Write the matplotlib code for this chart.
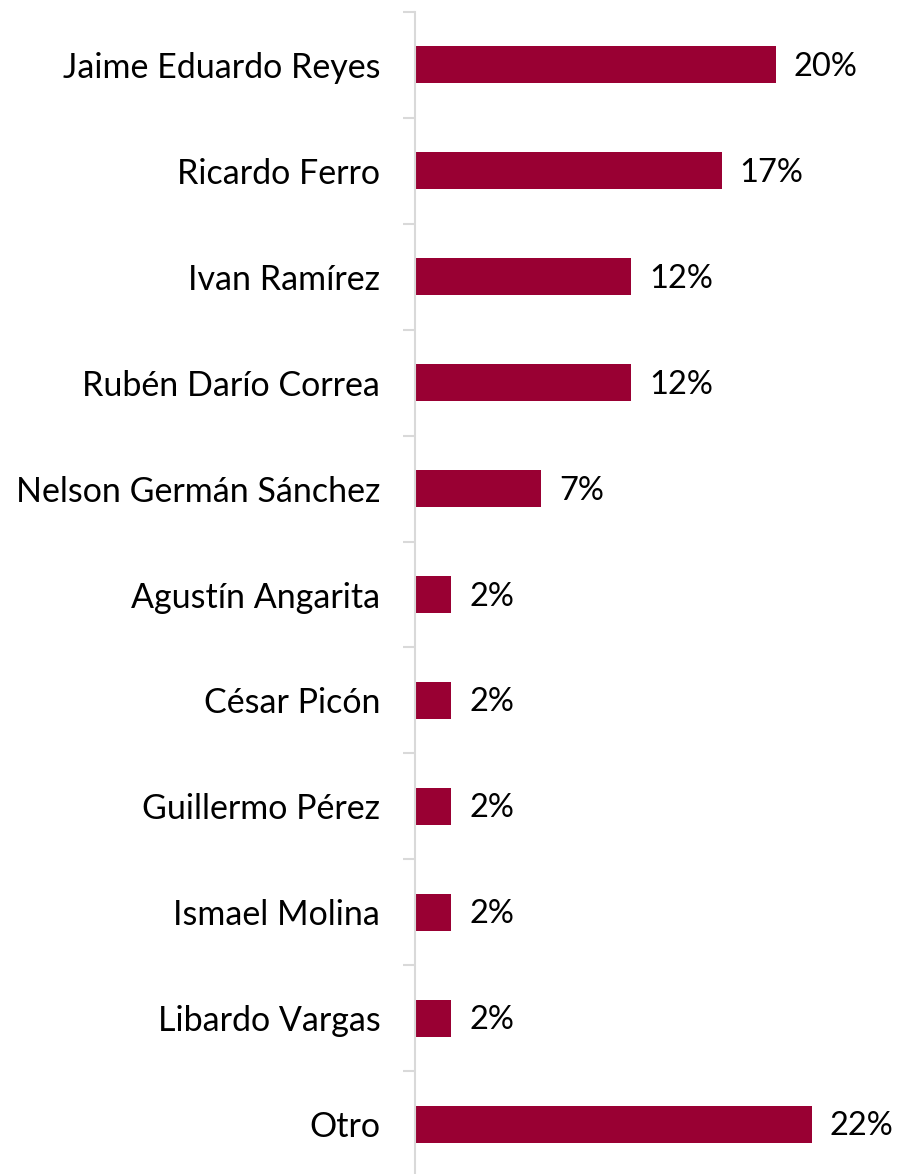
import numpy as np
import matplotlib
matplotlib.use('Agg')
import matplotlib.pyplot as plt

# data
candidates = ['Jaime Eduardo Reyes', 'Ricardo Ferro', 'Ivan Ramírez', 'Rubén Darío Correa',
              'Nelson Germán Sánchez', 'Agustín Angarita', 'César Picón', 'Guillermo Pérez',
              'Ismael Molina', 'Libardo Vargas', 'Otro']
shares = [20, 17, 12, 12, 7, 2, 2, 2, 2, 2, 22]

bar_color = '#990033'
grid_color = '#d9d9d9'

plt.rcParams['font.family'] = ['Lato', 'DejaVu Sans']

W, H = 899, 1174
fig = plt.figure(figsize=(W / 100, H / 100), dpi=100)
left, right = 415 / W, 884 / W
top, bottom = 1 - 12 / H, 1 - 1177 / H
ax = fig.add_axes([left, bottom, right - left, top - bottom])

y = np.arange(len(candidates))
ax.barh(y, shares, height=0.35, color=bar_color)

for yi, v in zip(y, shares):
    ax.annotate(f'{v}%', xy=(v, yi), xytext=(13, -1.5), textcoords='offset points',
                va='center', ha='left', fontsize=23.5, color='black')

ax.set_xlim(0, 26)
ax.set_ylim(len(candidates) - 0.5, -0.5)

ax.set_yticks(y)
ax.set_yticklabels(candidates, fontsize=24.5)
ax.set_yticks(np.arange(-0.5, len(candidates) + 0.5, 1), minor=True)
ax.tick_params(axis='y', which='major', length=0, pad=25)
ax.tick_params(axis='y', which='minor', length=8.5, width=1.5, color=grid_color, direction='out')
ax.set_xticks([])

for s in ['top', 'right', 'bottom']:
    ax.spines[s].set_visible(False)
ax.spines['left'].set_color(grid_color)
ax.spines['left'].set_linewidth(1.5)

fig.savefig('out.png', dpi=100)
